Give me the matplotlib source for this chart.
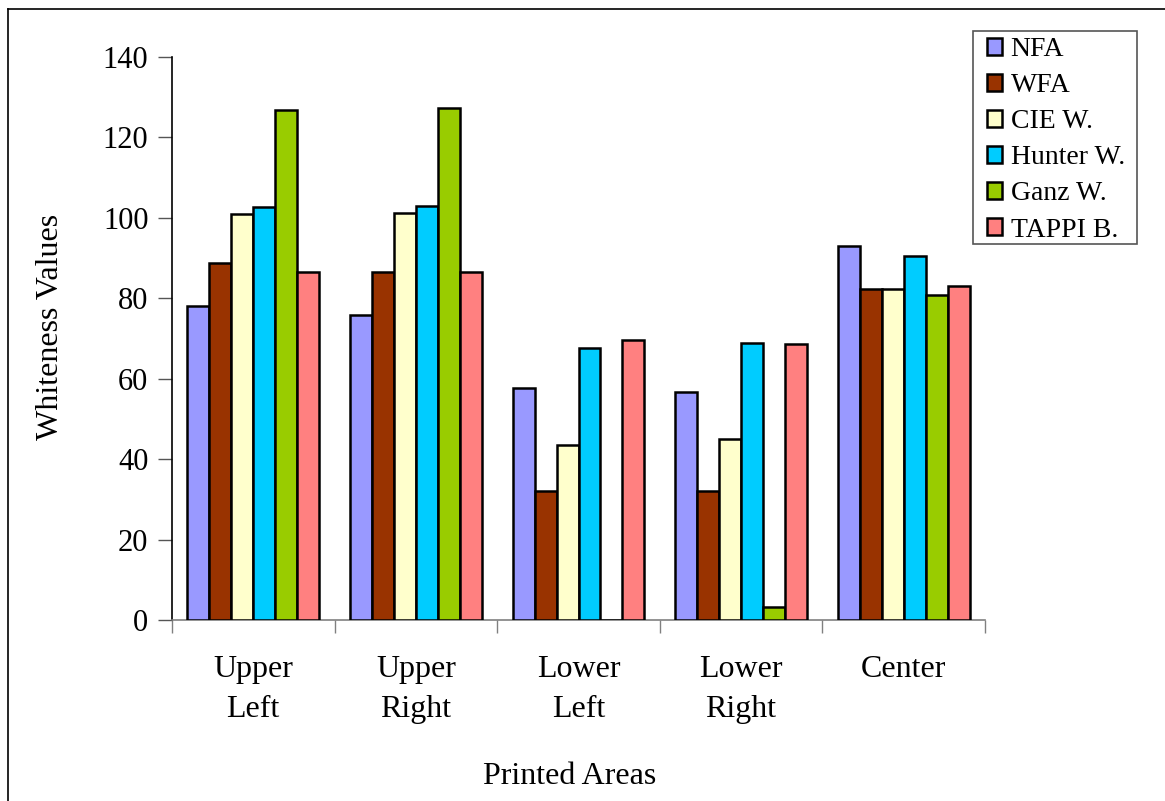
import matplotlib

matplotlib.use("Agg")
import matplotlib.pyplot as plt
import numpy as np
from matplotlib.lines import Line2D
from matplotlib.patches import Patch, Rectangle

plt.rcParams["font.family"] = ["Liberation Serif", "DejaVu Serif"]

areas = ["Upper\nLeft", "Upper\nRight", "Lower\nLeft", "Lower\nRight", "Center"]
series = ["NFA", "WFA", "CIE W.", "Hunter W.", "Ganz W.", "TAPPI B."]
colors = ["#9999FF", "#993300", "#FFFFCC", "#00CCFF", "#99CC00", "#FF8080"]

nfa = [78.1, 75.9, 57.6, 56.6, 93.0]
wfa = [88.7, 86.6, 32.0, 32.0, 82.2]
cie_w = [100.9, 101.2, 43.5, 44.9, 82.2]
hunter_w = [102.8, 103.0, 67.7, 68.9, 90.6]
ganz_w = [126.7, 127.2, 0.0, 3.2, 80.8]
tappi_b = [86.6, 86.5, 69.7, 68.7, 83.1]
values = [nfa, wfa, cie_w, hunter_w, ganz_w, tappi_b]

W, H = 1165, 801
fig = plt.figure(figsize=(W / 100, H / 100), dpi=100)
ax = fig.add_axes([172 / W, 1 - 620 / H, (985 - 172) / W, (620 - 57) / H])

x = np.arange(len(areas))
width = 0.135
for i, (name, vals, col) in enumerate(zip(series, values, colors)):
    offs = (i - (len(series) - 1) / 2) * width
    ax.bar(x + offs, vals, width, color=col, edgecolor="black", linewidth=1.8, label=name, zorder=3)

ax.set_xlim(-0.5, len(areas) - 0.5)
ax.set_ylim(0, 140)
ax.set_yticks(np.arange(0, 141, 20))
ax.tick_params(axis="y", direction="out", length=10, width=1, colors="#555555", labelcolor="black",
               labelsize=22, pad=7)
ax.set_xticks(x)
ax.set_xticklabels(areas, fontsize=23, linespacing=1.5)
ax.tick_params(axis="x", which="major", length=0, pad=25)
ax.set_xticks(np.arange(-0.5, len(areas)), minor=True)
ax.tick_params(axis="x", which="minor", direction="out", length=9, width=1, color="#808080")

for side in ("top", "right"):
    ax.spines[side].set_visible(False)
ax.spines["left"].set_color("black")
ax.spines["left"].set_linewidth(1.2)
ax.spines["bottom"].set_color("#808080")
ax.spines["bottom"].set_linewidth(1.2)

ax.set_ylabel("Whiteness Values", fontsize=23)
ax.yaxis.set_label_coords(-0.131, 0.52)
fig.text(570 / W, 1 - 776 / H, "Printed Areas", fontsize=23, ha="center", va="center")

# legend box drawn separately so the inner padding can differ per side
fig.add_artist(Rectangle((973 / W, 1 - 244 / H), (1137 - 973) / W, (244 - 31) / H,
                         transform=fig.transFigure, facecolor="white", edgecolor="#555555",
                         linewidth=1.2, zorder=4))
handles = [Patch(facecolor=c, edgecolor="black", linewidth=1.8) for c in colors]
leg = fig.legend(handles, series, loc="upper left", bbox_to_anchor=(987 / W, 1 - 37 / H),
                 borderaxespad=0, borderpad=0, fontsize=20, frameon=False,
                 handlelength=0.55, handleheight=0.55, handletextpad=0.3,
                 labelspacing=0.4)
leg.set_zorder(5)

# outer frame, open on the right and bottom
fig.add_artist(Line2D([8 / W, 8 / W], [1 - 9 / H, 0], transform=fig.transFigure, color="black", lw=1.2))
fig.add_artist(Line2D([8 / W, 1], [1 - 9 / H, 1 - 9 / H], transform=fig.transFigure, color="black", lw=1.2))

fig.savefig("out.png", dpi=100)
